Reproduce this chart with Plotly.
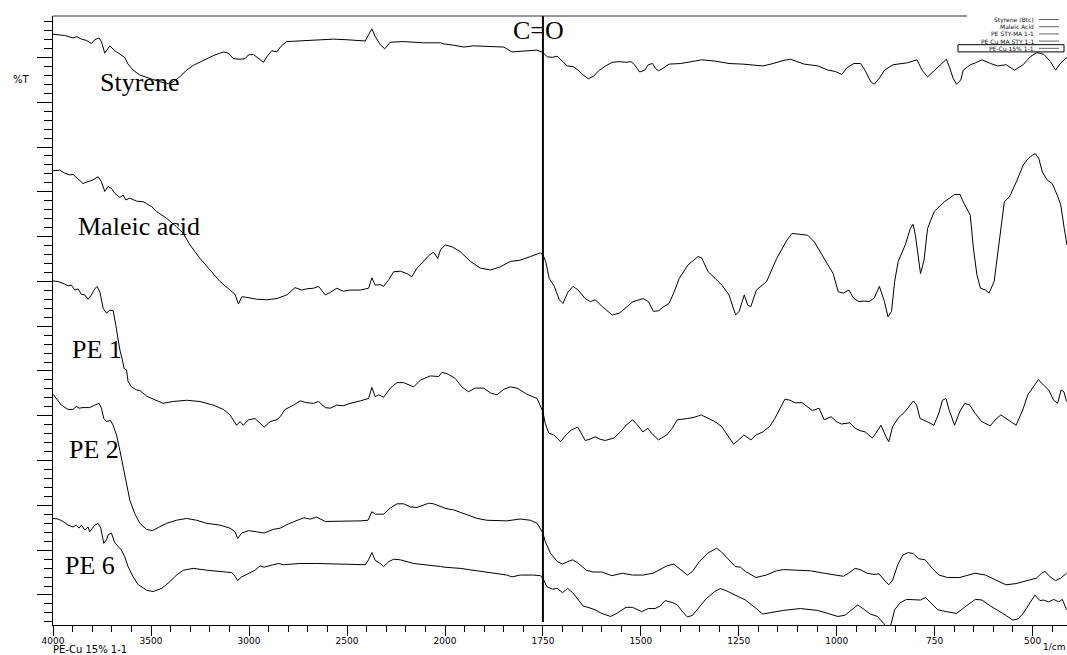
import plotly.graph_objects as go

# ---------------- data (wavenumber in 1/cm, transmittance in arbitrary stacked %T units) -------------
styrene_wn = [4000,3940,3898,3877,3855,3830,3804,3787,3765,3753,3736,3710,3685,3659,3634,3617,3591,3557,3523,3489,3455,3412,3387,3353,3319,3284,3233,3182,3131,3105,3080,3046,3020,3003,2978,2952,2926,2909,2884,2858,2838,2807,2739,2654,2569,2500,2407,2390,2373,2356,2330,2308,2279,2211,2109,2023,1978,1952,1927,1884,1850,1829,1799,1765,1750,
              1739,1726,1714,1704,1688,1673,1660,1647,1634,1621,1608,1590,1573,1555,1538,1525,1516,1503,1490,1481,1470,1463,1455,1441,1428,1398,1372,1345,1310,1275,1240,1214,1188,1162,1136,1118,1083,1048,1022,1004,987,974,956,939,926,913,904,891,878,856,821,795,782,768,755,733,720,712,703,694,683,677,659,646,629,607,589,567,546,524,506,489,471,454,441,428,412]
styrene_t = [97.0,96.8,96.4,96.6,96.2,96.0,95.5,96.1,96.4,95.8,93.9,95.1,94.3,93.7,93.2,92.1,91.1,90.3,89.9,89.5,89.2,88.9,89.2,90.0,91.1,91.9,92.7,93.5,94.1,93.9,93.0,92.9,93.0,93.6,93.7,93.0,92.4,93.3,94.3,94.1,95.0,95.8,95.9,96.0,96.2,96.1,95.9,96.9,97.9,96.6,95.3,94.6,95.7,95.8,95.6,95.6,95.2,94.9,95.1,95.0,94.9,94.1,94.2,94.4,94.0,
             93.3,93.2,93.4,92.8,91.8,91.7,91.1,90.3,89.7,90.1,91.0,91.8,92.4,92.5,92.4,92.5,92.0,90.8,91.1,92.0,92.2,91.4,91.0,91.5,92.1,92.2,92.5,92.8,92.6,92.2,92.1,92.0,91.8,92.2,92.7,92.9,92.1,91.8,91.1,90.9,90.4,91.5,92.2,92.2,90.9,89.2,88.8,89.8,91.1,92.0,92.3,92.8,91.1,90.0,90.8,92.2,92.9,91.6,89.8,88.8,89.5,91.1,92.0,92.3,92.8,92.2,91.8,92.0,91.1,92.0,93.3,94.0,93.7,92.5,91.1,92.3,93.2]

maleic_wn = [4000,3966,3940,3915,3898,3872,3847,3821,3796,3770,3753,3736,3719,3702,3685,3659,3642,3629,3608,3574,3540,3523,3497,3472,3421,3370,3335,3301,3250,3199,3148,3097,3071,3054,3037,3012,2961,2909,2858,2807,2765,2731,2705,2671,2645,2611,2586,2552,2518,2484,2432,2390,2373,2356,2330,2313,2287,2262,2228,2194,2169,2143,2109,2075,2058,2037,2023,1999,1982,1961,1935,1910,1884,1859,1833,1808,1782,1757,1750,
             1743,1734,1721,1708,1699,1686,1673,1660,1642,1629,1616,1599,1573,1555,1533,1520,1494,1481,1468,1455,1441,1428,1415,1402,1380,1354,1345,1328,1310,1293,1275,1258,1249,1236,1227,1219,1205,1179,1153,1127,1114,1092,1074,1057,1031,1009,996,983,969,956,943,930,917,904,891,878,869,860,852,843,825,812,805,799,786,777,768,751,725,699,685,677,659,651,642,633,620,611,598,585,572,559,541,524,511,499,493,484,475,463,450,437,428,419,412]
maleic_t = [74.6,74.7,74.2,73.9,74.0,73.3,72.5,72.8,73.1,73.6,72.8,71.2,72.0,71.7,70.9,70.2,70.6,69.8,70.1,69.6,69.5,69.2,68.7,67.9,66.8,65.4,64.3,62.4,60.2,58.3,56.4,55.0,54.3,52.7,53.9,53.8,53.5,53.4,53.6,54.2,55.4,55.0,55.2,55.3,55.6,54.2,54.6,55.3,54.8,55.0,55.0,55.3,57.0,55.8,55.9,55.6,56.7,58.0,58.1,57.7,57.2,58.6,59.7,60.9,61.2,60.2,61.6,62.4,62.1,61.3,59.7,58.6,58.3,58.8,59.7,59.9,60.5,61.1,60.8,
            59.7,56.9,55.6,53.4,52.8,54.7,55.6,55.0,53.6,53.1,53.4,52.3,50.9,51.2,52.5,53.1,53.6,53.1,51.5,51.6,52.3,52.8,54.7,56.9,59.1,60.5,60.3,58.0,56.9,55.8,54.2,50.9,51.5,54.2,52.5,52.3,55.0,56.4,60.2,63.2,64.3,64.2,64.0,62.9,60.2,57.7,54.7,54.5,55.0,53.6,53.1,53.2,53.1,53.7,55.6,53.1,50.6,51.5,56.4,59.7,62.4,65.1,65.8,64.0,57.7,59.9,65.1,67.9,69.5,70.7,70.7,69.5,67.3,61.9,57.5,55.3,55.0,54.5,56.4,62.9,69.5,70.3,72.8,75.5,76.6,77.2,77.4,76.6,74.4,73.1,72.5,70.6,69.0,65.1,62.4]

pe1_wn = [4000,3974,3949,3923,3906,3889,3872,3855,3838,3821,3804,3787,3775,3761,3744,3727,3710,3693,3680,3673,3659,3646,3637,3625,3617,3600,3574,3557,3540,3523,3489,3438,3387,3318,3250,3182,3131,3097,3063,3046,3029,3003,2969,2944,2923,2892,2858,2841,2816,2773,2739,2705,2671,2645,2611,2586,2552,2518,2484,2432,2390,2373,2356,2339,2313,2279,2245,2211,2177,2160,2126,2075,2032,2015,1995,1974,1957,1940,1923,1901,1884,1867,1850,1833,1816,1791,1765,1750,
          1744,1735,1722,1705,1691,1678,1661,1652,1642,1630,1617,1604,1591,1569,1552,1538,1521,1508,1495,1482,1473,1455,1434,1420,1407,1381,1364,1346,1329,1311,1294,1276,1263,1250,1237,1219,1206,1189,1171,1158,1145,1132,1119,1106,1088,1075,1062,1045,1032,1014,1001,988,966,953,940,927,909,900,887,874,867,857,844,826,813,804,796,787,769,752,739,730,721,713,699,686,673,660,647,630,608,595,581,564,542,525,512,498,485,472,459,446,436,427,420,413]
pe1_t = [56.5,56.4,56.1,55.7,55.8,55.0,55.2,54.3,54.2,53.5,54.2,55.2,55.6,54.7,52.0,51.2,51.7,51.6,49.3,47.9,45.2,43.5,42.1,41.9,40.0,39.1,38.6,38.5,38.0,37.6,37.1,36.4,36.7,36.9,36.7,36.1,35.4,34.5,32.8,33.4,32.8,33.7,33.9,33.1,32.5,33.4,33.7,34.2,35.4,36.1,36.8,36.5,36.4,36.7,35.7,35.6,36.1,36.0,36.4,36.8,37.2,39.0,37.5,37.8,37.4,38.9,39.8,39.8,39.4,39.1,40.2,40.9,40.8,41.5,41.3,40.5,39.1,38.3,38.9,38.9,38.1,37.8,38.7,39.1,38.9,37.9,37.2,35.0,
         33.1,31.5,31.2,30.1,31.2,32.0,32.5,31.5,30.3,30.5,30.9,30.5,30.3,30.7,31.7,32.8,33.7,32.8,31.7,32.3,31.5,30.4,31.2,32.3,33.7,33.9,34.1,34.5,33.9,33.4,32.6,30.9,29.7,30.4,31.2,30.4,31.2,31.7,32.6,33.9,35.6,37.1,36.9,36.5,36.5,35.9,35.2,35.6,33.7,34.2,33.4,33.0,33.2,32.3,31.9,31.7,30.7,31.5,32.8,30.9,30.1,32.6,33.9,35.0,36.0,36.8,36.1,33.9,33.4,32.8,34.8,36.9,37.2,35.3,32.8,35.0,36.4,36.1,34.8,33.4,32.7,33.7,34.5,33.7,32.8,35.3,37.8,39.1,40.3,39.4,38.6,36.9,36.4,38.6,38.3,36.7]

pe2_wn = [4000,3983,3957,3923,3898,3881,3867,3847,3813,3787,3765,3753,3741,3727,3707,3693,3676,3659,3642,3625,3608,3583,3557,3523,3492,3463,3421,3370,3318,3267,3216,3148,3097,3071,3058,3037,3003,2961,2923,2876,2841,2799,2756,2722,2688,2654,2611,2569,2500,2432,2393,2373,2356,2313,2279,2245,2211,2177,2143,2083,2058,2023,1978,1944,1918,1893,1842,1808,1782,1765,1750,
          1744,1731,1713,1700,1687,1674,1661,1639,1622,1600,1574,1547,1521,1495,1469,1451,1434,1416,1399,1381,1368,1351,1329,1307,1294,1276,1259,1246,1233,1206,1180,1154,1136,1101,1067,1032,1005,983,970,953,940,922,905,892,879,867,857,844,831,817,804,791,774,756,739,717,686,664,647,620,594,568,542,525,507,490,477,468,455,441,428,413]
pe2_t = [37.9,37.2,36.1,35.4,35.4,35.9,35.6,35.7,35.7,36.1,36.4,35.6,33.9,33.4,33.6,32.8,31.2,28.7,26.0,23.3,20.5,18.3,16.7,15.7,15.5,16.0,16.7,17.2,17.5,17.2,16.7,16.4,15.9,15.3,14.2,15.1,15.5,15.3,15.1,15.7,15.9,16.6,17.2,17.6,17.4,17.7,17.0,17.0,17.0,17.1,17.2,18.6,18.2,18.2,19.2,19.9,19.9,19.4,19.3,20.0,19.9,19.4,18.9,18.1,17.5,17.2,17.1,17.4,17.2,16.7,15.1,
         13.7,11.8,10.4,10.0,10.4,10.7,10.2,9.0,8.7,8.7,8.1,8.5,8.2,8.2,8.5,9.1,9.7,10.0,9.1,8.2,8.8,10.4,11.8,12.6,12.0,10.7,9.6,9.5,8.8,7.8,8.2,8.9,9.1,9.0,8.9,8.5,8.2,8.0,8.5,9.3,9.1,8.5,8.3,8.4,7.4,6.6,7.4,9.9,11.5,11.9,11.7,10.9,10.7,9.3,8.2,7.8,7.8,8.2,8.5,8.2,7.4,6.6,6.8,7.1,7.5,7.7,8.5,8.8,7.9,7.3,7.7,8.5]

pe6_wn = [4000,3974,3949,3923,3898,3881,3867,3855,3838,3821,3813,3787,3770,3756,3741,3727,3719,3702,3685,3668,3651,3634,3617,3591,3565,3540,3523,3489,3446,3404,3370,3335,3284,3216,3148,3088,3071,3058,3037,3003,2969,2944,2923,2876,2850,2824,2739,2654,2569,2484,2407,2390,2373,2356,2330,2313,2287,2262,2228,2160,2092,2023,1961,1918,1876,1842,1829,1808,1774,1757,1750,
          1740,1726,1713,1700,1687,1674,1661,1647,1635,1617,1600,1577,1559,1538,1521,1498,1481,1464,1451,1438,1420,1407,1394,1381,1368,1350,1332,1311,1297,1281,1259,1233,1211,1189,1171,1136,1093,1049,1023,997,979,962,946,931,914,896,888,879,870,861,852,839,822,799,786,773,760,742,721,694,672,646,629,607,576,550,537,524,507,494,481,472,459,446,433,424,420,413]
pe6_t = [17.5,17.4,17.0,16.4,16.1,16.4,15.9,16.4,15.6,16.1,15.3,16.4,16.7,15.9,13.4,14.0,14.8,15.1,13.5,12.9,12.3,11.2,9.6,7.9,6.6,6.1,5.7,5.5,6.0,7.1,8.2,9.0,9.3,9.0,8.8,8.6,8.0,7.3,7.9,8.4,9.0,9.7,9.5,9.9,10.1,9.9,10.1,10.1,10.0,10.0,9.9,10.7,11.9,10.6,10.1,9.6,10.4,10.8,10.7,10.1,9.9,9.6,9.3,8.9,8.5,8.2,7.9,8.2,8.2,8.1,7.7,
         6.3,5.9,6.0,5.3,6.0,5.3,4.2,3.1,2.9,2.5,1.9,1.4,2.0,2.9,2.9,2.2,2.7,2.7,3.1,4.0,3.7,3.3,2.2,1.3,1.6,3.0,4.4,5.5,6.0,5.6,4.9,4.1,3.0,1.8,2.0,2.4,2.7,2.4,1.9,1.4,1.6,2.5,3.3,2.6,1.8,1.4,0.9,0.2,-1.5,0.2,2.5,3.6,4.2,4.2,4.1,4.5,3.6,2.5,2.2,1.9,3.0,4.2,4.1,3.1,1.9,0.8,1.0,1.9,3.6,4.9,4.0,4.1,3.8,4.2,3.8,4.2,3.6,2.5]

legend_names = ["Styrene (Btc)", "Maleic Acid", "PE STY-MA 1-1", "PE Cu MA STY 1-1", "PE-Cu 15% 1-1"]
plot_labels = ["Styrene", "Maleic acid", "PE 1", "PE 2", "PE 6"]
label_wn = [3770, 3883, 3913, 3929, 3949]
label_t = [89.0, 65.4, 45.3, 28.9, 9.7]
x_left_ticks = [4000, 3500, 3000, 2500]
x_right_ticks = [2000, 1750, 1500, 1250, 1000, 750, 500]
carbonyl_wn = 1750
x_break = 2000
x_end = 412

series = [(styrene_wn, styrene_t), (maleic_wn, maleic_t), (pe1_wn, pe1_t),
          (pe2_wn, pe2_t), (pe6_wn, pe6_t)]
for wn, t in series:
    assert len(wn) == len(t), (len(wn), len(t))

# ---------------- figure -------------
W, H = 1067, 655
ML, MR, MT, MB = 53, 0, 16, 30
pw = W - ML - MR
ph = H - MT - MB
split = 392 / pw          # fraction of plot width for 4000-2000 (half scale)

fig = go.Figure()
for (wn, t), name in zip(series, legend_names):
    for xa in ("x", "x2"):
        fig.add_trace(go.Scatter(x=wn, y=t, xaxis=xa, yaxis="y", mode="lines",
                                 name=name, line=dict(color="black", width=1),
                                 showlegend=False, hoverinfo="skip"))

tickfont = dict(family="DejaVu Sans", size=9, color="black")
common_x = dict(showline=True, linecolor="black", linewidth=1, ticks="outside",
                ticklen=10, tickcolor="black", showgrid=False, zeroline=False,
                tickfont=tickfont, anchor="y", fixedrange=True, ticklabelstandoff=-3)

fig.update_layout(
    width=W, height=H, autosize=False,
    margin=dict(l=ML, r=MR, t=MT, b=MB, pad=0),
    paper_bgcolor="white", plot_bgcolor="white",
    showlegend=False,
    xaxis=dict(domain=[0, split], range=[4000, x_break], tickmode="array",
               tickvals=x_left_ticks, ticktext=[str(v) for v in x_left_ticks],
               minor=dict(ticks="outside", ticklen=6, tickcolor="black",
                          tick0=x_break, dtick=100, showgrid=False),
               **common_x),
    xaxis2=dict(domain=[split, 1], range=[x_break, x_end], tickmode="array",
                tickvals=x_right_ticks, ticktext=[str(v) for v in x_right_ticks],
                minor=dict(ticks="outside", ticklen=6, tickcolor="black",
                           tick0=x_break, dtick=50, showgrid=False),
                **common_x),
    yaxis=dict(domain=[0, 1], range=[0, 100], showline=True, linecolor="black",
               linewidth=1, ticks="outside", ticklen=15, tickcolor="black",
               tickmode="linear", tick0=4.93, dtick=7.356, showticklabels=False,
               showgrid=False, zeroline=False, anchor="x", fixedrange=True,
               minor=dict(ticks="outside", ticklen=8, tickcolor="black",
                          tick0=4.93, dtick=7.356 / 5, showgrid=False)),
)

def px_x(p):
    return (p - ML) / pw

def px_y(p):
    return (H - MB - p) / ph

shapes = []
# top frame line (interrupted by the legend block)
shapes.append(dict(type="line", xref="paper", yref="paper", x0=0, x1=px_x(967),
                   y0=1, y1=1, line=dict(color="#333333", width=1)))
# C=O marker line
shapes.append(dict(type="line", xref="x2", yref="paper", x0=carbonyl_wn, x1=carbonyl_wn,
                   y0=0.005, y1=1, line=dict(color="black", width=2)))

annotations = []
# compact legend block in the top-right corner
LEG_STEP = 7.2
legend_rows = [19.5 + i * LEG_STEP for i in range(len(legend_names))]
for name, ry in zip(legend_names, legend_rows):
    annotations.append(dict(text=name, xref="paper", yref="paper", x=px_x(1035),
                            y=px_y(ry), xanchor="right", yanchor="middle",
                            showarrow=False, borderpad=0,
                            font=dict(family="DejaVu Sans", size=6, color="#111111")))
    shapes.append(dict(type="line", xref="paper", yref="paper", x0=px_x(1039),
                       x1=px_x(1059), y0=px_y(ry), y1=px_y(ry),
                       line=dict(color="#666666", width=1)))
shapes.append(dict(type="rect", xref="paper", yref="paper", x0=px_x(958), x1=px_x(1064),
                   y0=px_y(legend_rows[-1] + 3.6), y1=px_y(legend_rows[-1] - 3.6),
                   line=dict(color="black", width=1)))

for txt, lx, ly in zip(plot_labels, label_wn, label_t):
    annotations.append(dict(text=txt, xref="x", yref="y", x=lx, y=ly, xanchor="left",
                            yanchor="middle", showarrow=False,
                            font=dict(family="Liberation Serif", size=26, color="black")))

annotations.append(dict(text="C=O", xref="x2", yref="paper", x=carbonyl_wn, y=px_y(30.2),
                        xanchor="center", yanchor="middle", xshift=-4, showarrow=False,
                        font=dict(family="Liberation Serif", size=26, color="black")))
annotations.append(dict(text="%T", xref="paper", yref="paper", x=px_x(21), y=px_y(79),
                        xanchor="center", yanchor="middle", showarrow=False,
                        font=dict(family="DejaVu Sans", size=10, color="black")))
annotations.append(dict(text="PE-Cu 15% 1-1", xref="paper", yref="paper", x=px_x(51),
                        y=px_y(649), xanchor="left", yanchor="middle", showarrow=False,
                        font=dict(family="DejaVu Sans", size=10, color="black")))
annotations.append(dict(text="1/cm", xref="paper", yref="paper", x=1.0,
                        y=px_y(647), xanchor="right", yanchor="middle", showarrow=False,
                        font=dict(family="DejaVu Sans", size=9, color="black")))

fig.update_layout(shapes=shapes, annotations=annotations)

fig.write_html("out.html", config={"displayModeBar": False, "staticPlot": True},
               post_script="document.body.style.margin='0';document.body.style.overflow='hidden';")
